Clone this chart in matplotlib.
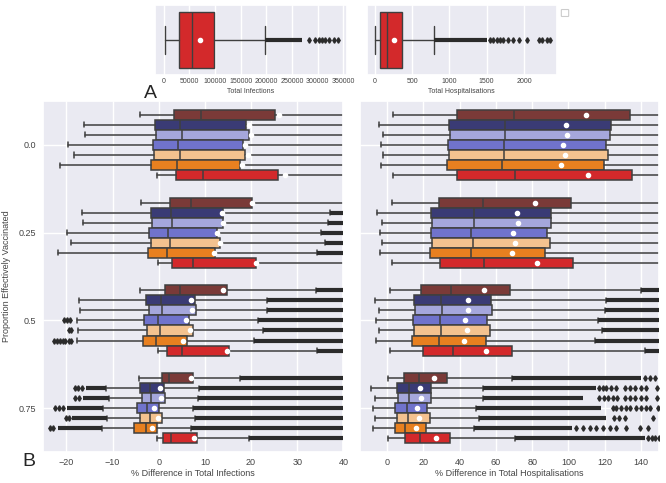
import numpy as np
import matplotlib
matplotlib.use("Agg")
import matplotlib.pyplot as plt
import seaborn as sns
from matplotlib.patches import FancyBboxPatch

sns.set_theme(style="darkgrid")
plt.rcParams['font.family'] = ['Liberation Sans', 'DejaVu Sans']

#################################################
# data

proportions = ['0.0', '0.25', '0.5', '0.75']
hue_colors = ['#7a3a38', '#3a3b75', '#a5a7dc', '#7073cc', '#f4c28f', '#e88020', '#d3292b']

# top panel A: totals (single box each)
tot_inf = dict(whislo=2000, q1=29300, med=56000, mean=70000, q3=97700, whishi=197000)
tot_inf_dense_end = 270000
tot_inf_dots = [283000, 294000, 302000, 308000, 315000, 321000, 331000, 339000]

tot_hosp = dict(whislo=5, q1=62, med=169, mean=250, q3=366, whishi=795)
tot_hosp_dense_end = 1500
tot_hosp_dots = [1546, 1590, 1635, 1680, 1724, 1783, 1858, 1938, 2037, 2206, 2247, 2306, 2350]

# panel B left: % difference in total infections  [group][hue]
inf_whislo = [[-4.0, -16.2, -16.0, -19.6, -18.3, -21.4, -0.3],
              [-3.9, -16.7, -16.5, -19.9, -19.0, -21.8, -0.15],
              [-4.05, -17.3, -17.0, -17.6, -17.4, -17.7, -0.2],
              [-4.2, -11.4, -10.8, -12.0, -11.3, -12.3, -0.4]]
inf_q1 = [[3.3, -0.9, -0.5, -1.3, -0.95, -1.6, 3.7],
          [2.45, -1.7, -1.4, -2.1, -1.7, -2.4, 2.9],
          [1.4, -2.75, -2.2, -3.1, -2.5, -3.5, 1.9],
          [0.65, -4.0, -3.6, -4.8, -4.1, -5.3, 0.85]]
inf_med = [[9.2, 4.7, 5.0, 4.1, 4.7, 3.9, 9.5],
           [7.0, 2.6, 2.9, 1.95, 2.5, 1.7, 7.4],
           [4.6, 0.5, 0.65, -0.15, 0.35, -0.6, 5.0],
           [2.2, -1.9, -1.6, -2.6, -1.9, -2.8, 2.6]]
inf_q3 = [[25.2, 19.0, 19.5, 18.3, 18.8, 17.6, 25.9],
          [20.3, 13.9, 14.0, 12.7, 13.3, 12.2, 21.1],
          [14.7, 7.9, 8.1, 6.6, 7.4, 6.2, 15.3],
          [7.5, 1.15, 1.36, 0.13, 0.8, -0.3, 8.4]]
inf_mean = [[26.1, 19.5, 19.9, 18.8, 19.3, 18.1, 27.3],
            [20.3, 13.8, 13.9, 12.6, 13.2, 12.0, 21.1],
            [14.0, 7.1, 7.3, 5.9, 6.8, 5.3, 14.7],
            [7.1, 0.3, 0.6, -0.95, -0.15, -1.45, 7.6]]
inf_whishi = [[55, 45, 46, 43, 44, 42, 57],
              [45, 37.1, 36.7, 35.1, 36.0, 34.3, 47],
              [34.0, 23.5, 23.5, 21.6, 22.6, 20.7, 34.2],
              [17.7, 8.8, 8.6, 7.5, 7.9, 7.0, 19.6]]
nan = np.nan
# dense outliers above the upper whisker run to this value (nan = none)
inf_hi_end = [[nan] * 7,
              [nan, 60, 60, 60, 60, 60, nan],
              [60] * 7,
              [60] * 7]
# dense outliers below the lower whisker start here
inf_lo_start = [[nan] * 7,
                [nan] * 7,
                [nan] * 7,
                [nan, -15.7, -16.3, -19.9, -18.8, -21.8, nan]]
inf_lo_dots = {(2, 3): [-20.5, -19.9, -19.2],
               (2, 4): [-19.4, -18.9],
               (2, 5): [-22.6, -22.0, -21.4, -20.8, -20.2, -19.5, -18.9],
               (3, 1): [-18.1, -17.4, -16.7],
               (3, 2): [-18.1, -17.3],
               (3, 3): [-22.4, -21.6, -20.8],
               (3, 4): [-20.1, -19.5],
               (3, 5): [-23.5, -22.8]}

# panel B right: % difference in total hospitalisations
hosp_whislo = [[3.3, -4.7, -2.2, -3.2, -2.2, -3.2, 3.3],
               [2.4, -5.4, -2.8, -4.1, -2.8, -4.1, 2.4],
               [1.5, -6.5, -4.7, -6.0, -4.7, -6.1, 1.5],
               [0.55, -8.8, -6.9, -8.0, -6.9, -8.0, 0.55]]
hosp_q1 = [[38.3, 34.0, 34.6, 33.6, 33.9, 33.2, 38.8],
           [28.8, 24.3, 24.9, 24.0, 24.9, 23.8, 29.3],
           [18.9, 14.8, 15.4, 14.3, 15.0, 13.9, 19.7],
           [9.3, 5.6, 5.9, 4.6, 5.6, 4.2, 9.6]]
hosp_med = [[70.1, 65.0, 65.2, 64.3, 64.6, 63.6, 70.4],
            [53.0, 47.8, 48.1, 46.5, 47.6, 46.1, 53.5],
            [35.5, 29.9, 30.5, 29.0, 29.6, 28.6, 36.4],
            [17.5, 11.9, 12.1, 10.9, 11.7, 10.0, 18.2]]
hosp_q3 = [[134.2, 123.3, 123.0, 120.8, 122.1, 119.9, 135.3],
           [101.3, 90.5, 90.5, 88.1, 89.6, 87.2, 102.6],
           [67.8, 57.4, 57.6, 55.0, 56.5, 54.3, 68.9],
           [33.1, 24.1, 24.1, 22.1, 23.4, 21.2, 34.6]]
hosp_mean = [[109.9, 98.9, 99.4, 96.8, 98.1, 95.9, 111.0],
             [81.6, 71.6, 72.1, 69.7, 70.6, 68.8, 82.7],
             [53.3, 44.4, 44.8, 43.1, 44.1, 42.2, 54.3],
             [25.7, 18.2, 18.6, 16.7, 17.6, 16.0, 26.8]]
hosp_whishi = [[270, 250, 250, 245, 248, 244, 270],
               [210, 190, 190, 185, 188, 183, 212],
               [140.0, 120.8, 120.2, 116.5, 118.6, 114.7, 142.2],
               [68.8, 53.0, 53.0, 48.9, 50.8, 48.0, 70.6]]
hosp_hi_end = [[nan] * 7,
               [nan] * 7,
               [200] * 7,
               [140, 115, 108, 118, 121, 102, 142]]
hosp_lo_start = [[nan] * 7 for _ in range(4)]
hosp_hi_dots = {(3, 0): [142, 145, 148],
                (3, 1): [117, 119, 121, 123.5, 126, 131, 134, 137, 140, 143, 149],
                (3, 2): [117, 119.5, 122, 124.5, 127, 131, 134, 137, 140, 143, 149],
                (3, 3): [124.6, 126.5, 129.3, 132, 134, 137.5, 140.3, 143, 145, 149.5],
                (3, 4): [125.3, 128, 131, 146.8],
                (3, 5): [104, 108, 112, 115.5, 119, 123, 126.5, 132, 139.5, 144],
                (3, 6): [144, 146, 148, 150]}

#################################################

EDGE = '#3f3f3f'
FLIER = '#2b2b2b'
TXT = '#444444'


def box_kw(lw):
    return dict(patch_artist=True, showmeans=True, showfliers=False,
                manage_ticks=False, orientation='horizontal',
                boxprops=dict(edgecolor=EDGE, linewidth=lw),
                medianprops=dict(color=EDGE, linewidth=lw),
                whiskerprops=dict(color=EDGE, linewidth=lw),
                capprops=dict(color=EDGE, linewidth=lw),
                meanprops=dict(marker='o', markerfacecolor='white',
                               markeredgecolor='white', markersize=3))


def draw_panel(ax, whislo, q1, med, q3, mean, whishi, hi_end, lo_start, lo_dots, hi_dots):
    nh = len(hue_colors)
    w = 0.8 / nh
    for g in range(len(proportions)):
        for h in range(nh):
            y = g - 0.4 + (h + 0.5) * w
            st = dict(whislo=whislo[g][h], q1=q1[g][h], med=med[g][h],
                      q3=q3[g][h], mean=mean[g][h], whishi=whishi[g][h])
            res = ax.bxp([st], positions=[y], widths=w, **box_kw(1.1))
            res['boxes'][0].set_facecolor(hue_colors[h])
            if not np.isnan(hi_end[g][h]):
                ax.hlines(y, whishi[g][h], hi_end[g][h], color=FLIER, lw=3, zorder=3)
            if not np.isnan(lo_start[g][h]):
                ax.hlines(y, lo_start[g][h], whislo[g][h], color=FLIER, lw=3, zorder=3)
            for d in (lo_dots.get((g, h), []) + hi_dots.get((g, h), [])):
                ax.plot(d, y, 'd', color=FLIER, ms=2.8, zorder=3)
    ax.set_ylim(len(proportions) - 0.5, -0.5)
    ax.set_yticks(range(len(proportions)))
    ax.tick_params(labelsize=6.5, length=0, labelcolor=TXT)
    ax.tick_params(axis='x', pad=4)
    ax.tick_params(axis='y', pad=5)


fig = plt.figure(figsize=(6.66, 4.83), dpi=100)

# --- A ---
axA1 = fig.add_axes([0.2327, 0.8447, 0.2883, 0.1449])
res = axA1.bxp([tot_inf], positions=[0], widths=0.8, **box_kw(1.0))
res['boxes'][0].set_facecolor(hue_colors[6])
axA1.hlines(0, tot_inf['whishi'], tot_inf_dense_end, color=FLIER, lw=3, zorder=3)
axA1.plot(tot_inf_dots, [0] * len(tot_inf_dots), 'd', color=FLIER, ms=2.8, zorder=3)
axA1.set_xlim(-17000, 357000)
axA1.set_ylim(0.5, -0.5)
axA1.set_yticks([])
axA1.set_xticks(range(0, 350001, 50000))
axA1.set_xticklabels([str(v) for v in range(0, 350001, 50000)])
axA1.tick_params(labelsize=5, pad=2.5, length=0, labelcolor=TXT)
axA1.set_xlabel('Total Infections', fontsize=5, labelpad=2, color=TXT)

axA2 = fig.add_axes([0.5506, 0.8447, 0.2853, 0.1449])
res = axA2.bxp([tot_hosp], positions=[0], widths=0.8, **box_kw(1.0))
res['boxes'][0].set_facecolor(hue_colors[6])
axA2.hlines(0, tot_hosp['whishi'], tot_hosp_dense_end, color=FLIER, lw=3, zorder=3)
axA2.plot(tot_hosp_dots, [0] * len(tot_hosp_dots), 'd', color=FLIER, ms=2.8, zorder=3)
axA2.set_xlim(-110, 2440)
axA2.set_ylim(0.5, -0.5)
axA2.set_yticks([])
axA2.set_xticks([0, 500, 1000, 1500, 2000])
axA2.tick_params(labelsize=5, pad=2.5, length=0, labelcolor=TXT)
axA2.set_xlabel('Total Hospitalisations', fontsize=5, labelpad=2, color=TXT)

# empty legend frame
fig.patches.append(FancyBboxPatch((562 / 666, 1 - 16 / 483), 6 / 666, 6 / 483,
                                  boxstyle='round,pad=0.001', transform=fig.transFigure,
                                  facecolor='white', edgecolor='#cccccc', lw=0.8))

# --- B ---
axB1 = fig.add_axes([0.065, 0.064, 0.4505, 0.7267])
draw_panel(axB1, inf_whislo, inf_q1, inf_med, inf_q3, inf_mean, inf_whishi,
           inf_hi_end, inf_lo_start, inf_lo_dots, {})
axB1.set_xlim(-25, 40)
axB1.set_yticklabels(proportions)
axB1.set_xlabel('% Difference in Total Infections', fontsize=6.5, labelpad=2, color=TXT)
axB1.set_ylabel('Proportion Effectively Vaccinated', fontsize=6.5, labelpad=6, color=TXT)

axB2 = fig.add_axes([0.5405, 0.064, 0.449, 0.7267])
draw_panel(axB2, hosp_whislo, hosp_q1, hosp_med, hosp_q3, hosp_mean, hosp_whishi,
           hosp_hi_end, hosp_lo_start, {}, hosp_hi_dots)
axB2.set_xlim(-15, 150)
axB2.set_xticks(range(0, 141, 20))
axB2.set_yticklabels([])
axB2.set_xlabel('% Difference in Total Hospitalisations', fontsize=6.5, labelpad=2, color=TXT)

fig.text(150 / 666, 1 - 93 / 483, 'A', fontsize=14, ha='center', va='center')
fig.text(29 / 666, 1 - 462 / 483, 'B', fontsize=14, ha='center', va='center')

fig.savefig('out.png', dpi=100)
